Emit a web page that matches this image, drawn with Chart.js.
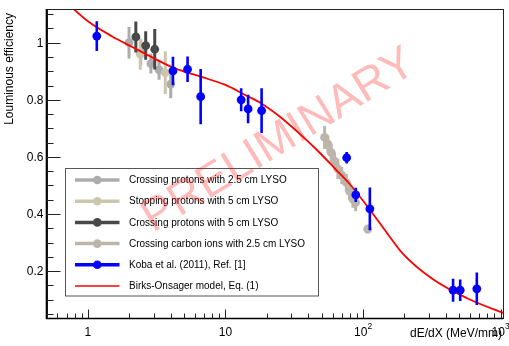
<!DOCTYPE html>
<html><head><meta charset="utf-8">
<script src="https://cdn.jsdelivr.net/npm/chart.js@4.4.1/dist/chart.umd.min.js"></script>
<style>html,body{margin:0;padding:0;background:#fff}#wrap{width:509px;height:346px;position:relative}</style>
</head><body><div id="wrap"><canvas id="c" width="509" height="346"></canvas></div>
<script>
// ---- data ----
const lgX = [1.99, 2.42, 2.87, 3.29, 4.0];
const lgY = [1.0, 0.965, 0.927, 0.905, 0.855];
const lgErr = [0.055, 0.045, 0.035, 0.035, 0.05];

const tanX = [2.4, 3.65];
const tanY = [0.96, 0.895];
const tanErr = [0.055, 0.075];

const dkX = [2.23, 2.63, 3.06];
const dkY = [1.02, 0.99, 0.977];
const dkErr = [0.054, 0.05, 0.071];

const cX = [52.5, 55.5, 58.7, 62.1, 65.6, 70, 75.5, 79.8, 84.4, 88.3, 108];
const cY = [0.668, 0.645, 0.615, 0.585, 0.558, 0.535, 0.51, 0.48, 0.452, 0.44, 0.347];
const cErr = [0.04, 0.03, 0.03, 0.03, 0.035, 0.03, 0.03, 0.03, 0.03, 0.03, 0.015];

const kobaX = [1.16, 4.15, 5.3, 6.6, 13.0, 14.6, 18.3, 76, 88.5, 112, 451, 508, 671];
const kobaY = [1.023, 0.901, 0.907, 0.811, 0.80, 0.768, 0.762, 0.597, 0.467, 0.418, 0.133, 0.133, 0.138];
const kobaErr = [0.052, 0.05, 0.045, 0.097, 0.04, 0.05, 0.078, 0.02, 0.025, 0.075, 0.04, 0.038, 0.057];

const curveX = [0.7, 1.0, 1.5, 2.1, 3.0, 4.2, 6.5, 10, 14, 18, 25, 35, 46, 64, 80, 112, 150, 195, 320, 570, 1000, 1100];
const curveY = [1.14, 1.075, 1.022, 0.985, 0.946, 0.912, 0.882, 0.852, 0.816, 0.789, 0.74, 0.679, 0.625, 0.554, 0.505, 0.415, 0.332, 0.26, 0.172, 0.105, 0.057, 0.05];

const seriesNames = [
  'Crossing protons with 2.5 cm LYSO',
  'Stopping protons with 5 cm LYSO',
  'Crossing protons with 5 cm LYSO',
  'Crossing carbon ions with 2.5 cm LYSO',
  'Koba et al. (2011), Ref. [1]',
  'Birks-Onsager model, Eq. (1)'
];

const yTickValues = [0.2, 0.4, 0.6, 0.8, 1];
const yTickLabels = ['0.2', '0.4', '0.6', '0.8', '1'];
const xTickValues = [1, 10, 100, 1000];
const xTickLabels = [['1', ''], ['10', ''], ['10', '2'], ['10', '3']];
const xTitle = 'dE/dX (MeV/mm)';
const yTitle = 'Louminous efficiency';
const watermark = 'PRELIMINARY';

// ---- build ----
const pts = (xs, ys) => xs.map((x, i) => ({x: x, y: ys[i]}));
const FONT = '"Liberation Sans", Arial, Helvetica, sans-serif';

const colLG = 'rgb(172,172,172)';
const colTan = 'rgb(204,199,172)';
const colDk = 'rgb(72,72,72)';
const colC = 'rgb(190,181,170)';
const colBlue = 'rgb(0,0,255)';
const colRed = 'rgb(255,0,0)';

function markerSet(label, xs, ys, errs, color, order, ew) {
  return {label, data: pts(xs, ys), err: errs, errWidth: ew, order,
    showLine: false, pointRadius: 4.4, pointBackgroundColor: color,
    pointBorderWidth: 0, borderColor: color, backgroundColor: color, legendLineWidth: 3.5};
}

const datasets = [
  markerSet(seriesNames[0], lgX, lgY, lgErr, colLG, 5, 3),
  markerSet(seriesNames[1], tanX, tanY, tanErr, colTan, 4, 3),
  markerSet(seriesNames[2], dkX, dkY, dkErr, colDk, 3, 3),
  markerSet(seriesNames[3], cX, cY, cErr, colC, 2, 3),
  markerSet(seriesNames[4], kobaX, kobaY, kobaErr, colBlue, 0, 2.6),
  {label: seriesNames[5], data: pts(curveX, curveY), showLine: true, order: 1,
   borderColor: colRed, borderWidth: 1.8, pointRadius: 0, cubicInterpolationMode: 'monotone', fill: false, legendLineWidth: 1.5}
];

const rootPlugin = {
  id: 'rootStyle',
  beforeDatasetDraw(chart, args) {
    const ds = chart.data.datasets[args.index];
    if (!ds.err) return;
    const ctx = chart.ctx, xs = chart.scales.x, ys = chart.scales.y, ca = chart.chartArea;
    ctx.save();
    ctx.beginPath(); ctx.rect(ca.left, ca.top, ca.right - ca.left, ca.bottom - ca.top); ctx.clip();
    ctx.strokeStyle = ds.borderColor; ctx.lineWidth = ds.errWidth; ctx.lineCap = 'butt';
    ds.data.forEach((p, i) => {
      const px = xs.getPixelForValue(p.x);
      ctx.beginPath();
      ctx.moveTo(px, ys.getPixelForValue(p.y + ds.err[i]));
      ctx.lineTo(px, ys.getPixelForValue(p.y - ds.err[i]));
      ctx.stroke();
    });
    ctx.restore();
  },
  afterDraw(chart) {
    const ctx = chart.ctx, xs = chart.scales.x, ys = chart.scales.y, ca = chart.chartArea;
    ctx.save();
    // frame
    ctx.strokeStyle = '#222'; ctx.lineWidth = 1;
    ctx.strokeRect(Math.round(ca.left) + 0.5, Math.round(ca.top) + 0.5, Math.round(ca.right - ca.left) - 1, Math.round(ca.bottom - ca.top) - 1);
    ctx.strokeStyle = '#000'; ctx.lineWidth = 1.6;
    ctx.beginPath(); ctx.moveTo(ca.left, ca.top); ctx.lineTo(ca.left, ca.bottom); ctx.lineTo(ca.right, ca.bottom); ctx.stroke();
    // y ticks (inside)
    ctx.lineWidth = 1; ctx.strokeStyle = '#222';
    for (let k = 1; k <= 22; k++) {
      const v = k * 0.05;
      const py = Math.round(ys.getPixelForValue(v)) + 0.5;
      if (py < ca.top || py > ca.bottom) continue;
      const len = (k % 4 === 0) ? 14 : 7;
      ctx.beginPath(); ctx.moveTo(ca.left, py); ctx.lineTo(ca.left + len, py); ctx.stroke();
    }
    // x ticks (inside)
    for (let d = -1; d <= 3; d++) {
      for (let m = 1; m <= 9; m++) {
        const v = m * Math.pow(10, d);
        if (v < xs.min || v > xs.max) continue;
        const px = Math.round(xs.getPixelForValue(v)) + 0.5;
        const len = (m === 1) ? 9 : 5;
        ctx.beginPath(); ctx.moveTo(px, ca.bottom); ctx.lineTo(px, ca.bottom - len); ctx.stroke();
      }
    }
    // y labels
    ctx.fillStyle = '#000';
    ctx.font = '12px ' + FONT;
    ctx.textAlign = 'right'; ctx.textBaseline = 'middle';
    yTickValues.forEach((v, i) => ctx.fillText(yTickLabels[i], ca.left - 3, ys.getPixelForValue(v) + 1));
    // x labels
    xTickValues.forEach((v, i) => {
      const [base, sup] = xTickLabels[i];
      const px = xs.getPixelForValue(v);
      ctx.font = '12px ' + FONT;
      const wb = ctx.measureText(base).width;
      ctx.font = '8.5px ' + FONT;
      const ws = sup ? ctx.measureText(sup).width : 0;
      const x0 = px - (wb + ws) / 2;
      ctx.textAlign = 'left'; ctx.textBaseline = 'middle';
      ctx.font = '12px ' + FONT;
      ctx.fillText(base, x0, ca.bottom + 14);
      if (sup) { ctx.font = '8.5px ' + FONT; ctx.fillText(sup, x0 + wb, ca.bottom + 8); }
    });
    // axis titles
    ctx.font = '12px ' + FONT;
    ctx.textAlign = 'right'; ctx.textBaseline = 'middle';
    ctx.fillText(xTitle, ca.right - 1, ca.bottom + 15);
    ctx.save();
    ctx.translate(10, 13); ctx.rotate(-Math.PI / 2);
    ctx.textAlign = 'right'; ctx.textBaseline = 'middle';
    ctx.fillText(yTitle, 0, 0);
    ctx.restore();
    // legend box
    const lx = 65.5, ly = 168.5, lw = 253, lh = 127.5;
    ctx.strokeStyle = '#555'; ctx.lineWidth = 1;
    ctx.strokeRect(lx, ly, lw, lh);
    const rowY = [180, 201.2, 222.4, 243.6, 264.8, 286];
    chart.data.datasets.forEach((ds, i) => {
      const y = rowY[i];
      ctx.strokeStyle = ds.borderColor; ctx.lineWidth = ds.legendLineWidth;
      ctx.beginPath(); ctx.moveTo(75, y); ctx.lineTo(119.5, y); ctx.stroke();
      if (ds.err) {
        ctx.fillStyle = ds.borderColor;
        ctx.beginPath(); ctx.arc(97.3, y, 4.3, 0, Math.PI * 2); ctx.fill();
      }
      ctx.fillStyle = '#000';
      ctx.font = '10px ' + FONT;
      ctx.textAlign = 'left'; ctx.textBaseline = 'middle';
      ctx.fillText(ds.label, 129, y + 0.5);
    });
    // watermark
    ctx.save();
    ctx.translate(279, 141); ctx.rotate(-31.5 * Math.PI / 180);
    ctx.font = '46px ' + FONT;
    ctx.fillStyle = 'rgba(255,0,0,0.27)';
    ctx.textAlign = 'center'; ctx.textBaseline = 'middle';
    ctx.fillText(watermark, 0, 0);
    ctx.restore();
    ctx.restore();
  }
};

new Chart(document.getElementById('c'), {
  type: 'scatter',
  data: {datasets},
  options: {
    responsive: false, animation: false, devicePixelRatio: 1,
    layout: {padding: {left: 46.5, right: 6, top: 9, bottom: 27.5}},
    plugins: {legend: {display: false}, tooltip: {enabled: false}},
    scales: {
      x: {type: 'logarithmic', min: 0.5, max: 1040, display: false},
      y: {type: 'linear', min: 0.034, max: 1.118, display: false}
    }
  },
  plugins: [rootPlugin]
});
</script></body></html>
